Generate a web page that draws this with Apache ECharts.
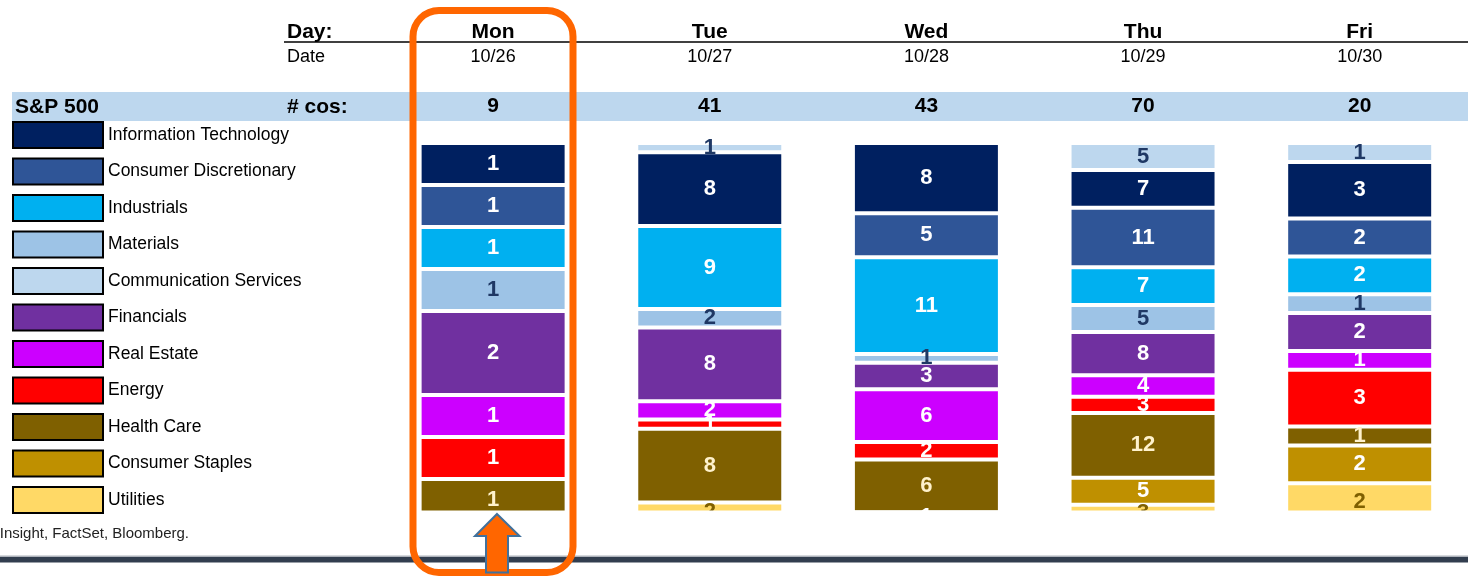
<!DOCTYPE html>
<html>
<head>
<meta charset="utf-8">
<script src="https://cdn.jsdelivr.net/npm/echarts@6/dist/echarts.min.js"></script>
<style>
  html, body { margin: 0; padding: 0; background: #fff; }
  #chart { width: 1468px; height: 577px; }
</style>
</head>
<body>
<div id="chart"></div>
<script>
  const days = ['Mon', 'Tue', 'Wed', 'Thu', 'Fri'];
  const dates = ['10/26', '10/27', '10/28', '10/29', '10/30'];
  const cosCount = [9, 41, 43, 70, 20];

  // companies reporting per sector, Mon..Fri
  const commServices = [0, 1, 0, 5, 1];
  const infoTech = [1, 8, 8, 7, 3];
  const consDisc = [1, 0, 5, 11, 2];
  const industrials = [1, 9, 11, 7, 2];
  const materials = [1, 2, 1, 5, 1];
  const financials = [2, 8, 3, 8, 2];
  const realEstate = [1, 2, 6, 4, 1];
  const energy = [1, 1, 2, 3, 3];
  const healthCare = [1, 8, 6, 12, 1];
  const consStaples = [0, 0, 1, 5, 2];
  const utilities = [0, 2, 0, 3, 2];

  const FONT = "'Liberation Sans', Arial, sans-serif";

  // stacking order, top to bottom
  const sectors = [
    {name: 'Communication Services', data: commServices, color: '#BDD7EE', label: '#1F3864'},
    {name: 'Information Technology', data: infoTech, color: '#002060', label: '#fff'},
    {name: 'Consumer Discretionary', data: consDisc, color: '#2F5597', label: '#fff'},
    {name: 'Industrials', data: industrials, color: '#00B0F0', label: '#fff'},
    {name: 'Materials', data: materials, color: '#9DC3E6', label: '#1F3864'},
    {name: 'Financials', data: financials, color: '#7030A0', label: '#fff'},
    {name: 'Real Estate', data: realEstate, color: '#CC00FF', label: '#fff'},
    {name: 'Energy', data: energy, color: '#FF0000', label: '#fff'},
    {name: 'Health Care', data: healthCare, color: '#7F6000', label: '#FFF2CC'},
    {name: 'Consumer Staples', data: consStaples, color: '#BF9000', label: '#fff'},
    {name: 'Utilities', data: utilities, color: '#FFD966', label: '#7F6000'}
  ];
  const legendOrder = ['Information Technology', 'Consumer Discretionary', 'Industrials', 'Materials',
    'Communication Services', 'Financials', 'Real Estate', 'Energy', 'Health Care',
    'Consumer Staples', 'Utilities'];

  let series = sectors.map(function (s) {
    return {
      name: s.name,
      type: 'bar',
      stack: 'total',
      barWidth: 147,
      itemStyle: {color: s.color, borderColor: '#fff', borderWidth: 2},
      label: {
        show: true,
        position: 'inside',
        color: s.label,
        fontFamily: FONT,
        fontWeight: 'bold',
        fontSize: 22,
        formatter: function (p) { return p.data.count > 0 ? String(p.data.count) : ''; }
      },
      data: s.data.map(function (v, i) {
        return {value: v / cosCount[i] * 100, count: v};
      })
    };
  });

  let chart = echarts.init(document.getElementById('chart'));
  let option = {
    animation: false,
    grid: {left: 384.8, top: 143, width: 1099, height: 378},
    legend: {
      data: legendOrder,
      orient: 'vertical',
      left: 12,
      top: 121,
      padding: 0,
      itemWidth: 90,
      itemHeight: 26,
      itemGap: 8.5,
      icon: 'rect',
      selectedMode: false,
      itemStyle: {borderColor: '#000', borderWidth: 2},
      textStyle: {fontFamily: FONT, fontSize: 17.5, lineHeight: 20, color: '#000'}
    },
    xAxis: [
      {type: 'category', data: days, show: false},
      {
        type: 'category',
        data: days,
        position: 'top',
        offset: 123,
        axisLine: {show: false},
        axisTick: {show: false},
        axisLabel: {
          margin: 0,
          verticalAlign: 'top',
          interval: 0,
          formatter: function (v, i) {
            return '{d|' + v + '}\n{t|' + dates[i] + '}\n{g| }\n{n|' + cosCount[i] + '}';
          },
          rich: {
            d: {fontFamily: FONT, fontSize: 21, fontWeight: 'bold', color: '#000', lineHeight: 24},
            t: {fontFamily: FONT, fontSize: 18, color: '#000', lineHeight: 26},
            g: {fontSize: 1, lineHeight: 23},
            n: {fontFamily: FONT, fontSize: 21, fontWeight: 'bold', color: '#000', lineHeight: 26}
          }
        }
      }
    ],
    yAxis: {type: 'value', inverse: true, min: 0, max: 100, show: false},
    series: series,
    graphic: [
      {type: 'rect', z: -5, shape: {x: 12, y: 92, width: 1456, height: 29}, style: {fill: '#BDD7EE'}},
      {type: 'line', z: 1, shape: {x1: 284, y1: 42, x2: 1468, y2: 42}, style: {stroke: '#000', lineWidth: 1.5}},
      {type: 'text', z: 1, x: 287, y: 32.5, style: {text: 'Day:', font: 'bold 21px ' + FONT, fill: '#000', verticalAlign: 'middle'}},
      {type: 'text', z: 1, x: 287, y: 57, style: {text: 'Date', font: '18px ' + FONT, fill: '#000', verticalAlign: 'middle'}},
      {type: 'text', z: 1, x: 15, y: 107, style: {text: 'S&P 500', font: 'bold 21px ' + FONT, fill: '#000', verticalAlign: 'middle'}},
      {type: 'text', z: 1, x: 287, y: 107, style: {text: '# cos:', font: 'bold 21px ' + FONT, fill: '#000', verticalAlign: 'middle'}},
      {type: 'text', z: 1, x: 189, y: 534, style: {text: 'Insight, FactSet, Bloomberg.', font: '15px ' + FONT, fill: '#222', align: 'right', verticalAlign: 'middle'}},
      // bars are cut off at the bottom of the panel
      {type: 'rect', z: 50, shape: {x: 380, y: 510.5, width: 1088, height: 14}, style: {fill: '#fff'}},
      {type: 'rect', z: 51, shape: {x: 0, y: 555.5, width: 1468, height: 1.5}, style: {fill: '#AEB3BB'}},
      {type: 'rect', z: 51, shape: {x: 0, y: 557, width: 1468, height: 5.5}, style: {fill: '#323E4F'}},
      {type: 'rect', z: 60, shape: {x: 413, y: 10.5, width: 160, height: 562, r: 26}, style: {fill: 'none', stroke: '#FF6600', lineWidth: 7}},
      {
        type: 'polygon', z: 61,
        shape: {points: [[497, 514], [519.5, 536], [508, 536], [508, 572.5], [486, 572.5], [486, 536], [475, 536]]},
        style: {fill: '#FF6600', stroke: '#41719C', lineWidth: 2}
      }
    ]
  };
  chart.setOption(option);
</script>
</body>
</html>
